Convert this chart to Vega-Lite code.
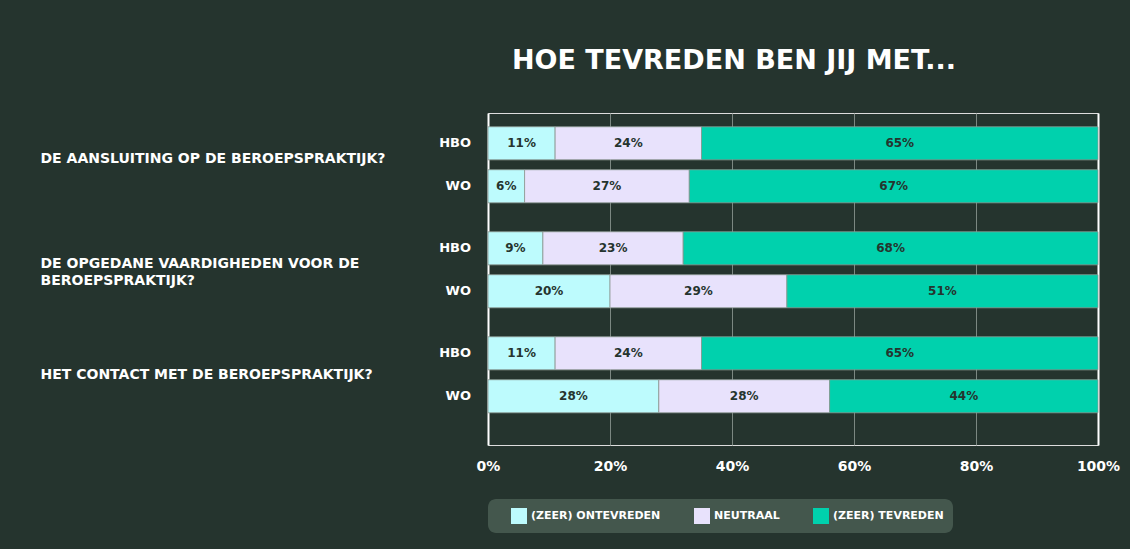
{
  "$schema": "https://vega.github.io/schema/vega-lite/v6.json",
  "width": 610,
  "height": 332,
  "autosize": {"type": "none"},
  "padding": {"left": 488, "top": 113, "right": 32, "bottom": 104},
  "background": "#25342e",
  "title": {
    "text": "HOE TEVREDEN BEN JIJ MET...",
    "color": "#ffffff",
    "font": "DejaVu Sans",
    "fontSize": 27,
    "fontWeight": "bold",
    "anchor": "middle",
    "frame": "group",
    "dx": -59,
    "offset": 38
  },
  "data": {
    "values": [
      {"question": "DE AANSLUITING OP DE BEROEPSPRAKTIJK?", "group": "HBO", "category": "(ZEER) ONTEVREDEN", "rank": 1, "value": 0.11},
      {"question": "DE AANSLUITING OP DE BEROEPSPRAKTIJK?", "group": "HBO", "category": "NEUTRAAL", "rank": 2, "value": 0.24},
      {"question": "DE AANSLUITING OP DE BEROEPSPRAKTIJK?", "group": "HBO", "category": "(ZEER) TEVREDEN", "rank": 3, "value": 0.65},
      {"question": "DE AANSLUITING OP DE BEROEPSPRAKTIJK?", "group": "WO", "category": "(ZEER) ONTEVREDEN", "rank": 1, "value": 0.06},
      {"question": "DE AANSLUITING OP DE BEROEPSPRAKTIJK?", "group": "WO", "category": "NEUTRAAL", "rank": 2, "value": 0.27},
      {"question": "DE AANSLUITING OP DE BEROEPSPRAKTIJK?", "group": "WO", "category": "(ZEER) TEVREDEN", "rank": 3, "value": 0.67},
      {"question": "DE OPGEDANE VAARDIGHEDEN VOOR DE|BEROEPSPRAKTIJK?", "group": "HBO", "category": "(ZEER) ONTEVREDEN", "rank": 1, "value": 0.09},
      {"question": "DE OPGEDANE VAARDIGHEDEN VOOR DE|BEROEPSPRAKTIJK?", "group": "HBO", "category": "NEUTRAAL", "rank": 2, "value": 0.23},
      {"question": "DE OPGEDANE VAARDIGHEDEN VOOR DE|BEROEPSPRAKTIJK?", "group": "HBO", "category": "(ZEER) TEVREDEN", "rank": 3, "value": 0.68},
      {"question": "DE OPGEDANE VAARDIGHEDEN VOOR DE|BEROEPSPRAKTIJK?", "group": "WO", "category": "(ZEER) ONTEVREDEN", "rank": 1, "value": 0.20},
      {"question": "DE OPGEDANE VAARDIGHEDEN VOOR DE|BEROEPSPRAKTIJK?", "group": "WO", "category": "NEUTRAAL", "rank": 2, "value": 0.29},
      {"question": "DE OPGEDANE VAARDIGHEDEN VOOR DE|BEROEPSPRAKTIJK?", "group": "WO", "category": "(ZEER) TEVREDEN", "rank": 3, "value": 0.51},
      {"question": "HET CONTACT MET DE BEROEPSPRAKTIJK?", "group": "HBO", "category": "(ZEER) ONTEVREDEN", "rank": 1, "value": 0.11},
      {"question": "HET CONTACT MET DE BEROEPSPRAKTIJK?", "group": "HBO", "category": "NEUTRAAL", "rank": 2, "value": 0.24},
      {"question": "HET CONTACT MET DE BEROEPSPRAKTIJK?", "group": "HBO", "category": "(ZEER) TEVREDEN", "rank": 3, "value": 0.65},
      {"question": "HET CONTACT MET DE BEROEPSPRAKTIJK?", "group": "WO", "category": "(ZEER) ONTEVREDEN", "rank": 1, "value": 0.28},
      {"question": "HET CONTACT MET DE BEROEPSPRAKTIJK?", "group": "WO", "category": "NEUTRAAL", "rank": 2, "value": 0.28},
      {"question": "HET CONTACT MET DE BEROEPSPRAKTIJK?", "group": "WO", "category": "(ZEER) TEVREDEN", "rank": 3, "value": 0.44}
    ]
  },
  "transform": [
    {"stack": "value", "groupby": ["question", "group"], "sort": [{"field": "rank"}], "as": ["x0", "x1"]}
  ],
  "encoding": {
    "y": {
      "field": "question",
      "type": "nominal",
      "sort": ["DE AANSLUITING OP DE BEROEPSPRAKTIJK?", "DE OPGEDANE VAARDIGHEDEN VOOR DE|BEROEPSPRAKTIJK?", "HET CONTACT MET DE BEROEPSPRAKTIJK?"],
      "scale": {"paddingInner": 0.276, "paddingOuter": 0.219, "align": 0.3},
      "axis": {
        "title": null,
        "domain": false,
        "ticks": false,
        "labelAlign": "left",
        "labelPadding": 448,
        "labelLimit": 440,
        "labelColor": "#ffffff",
        "labelFont": "DejaVu Sans",
        "labelFontSize": 14,
        "labelFontWeight": "bold",
        "labelLineHeight": 17,
        "labelOffset": {"condition": {"test": "datum.value === 'HET CONTACT MET DE BEROEPSPRAKTIJK?'", "value": 0}, "value": -6},
        "labelExpr": "split(datum.label, '|')"
      }
    },
    "yOffset": {
      "field": "group",
      "type": "nominal",
      "sort": ["HBO", "WO"],
      "scale": {"paddingInner": 0.23, "paddingOuter": 0}
    }
  },
  "layer": [
    {
      "mark": {"type": "bar", "stroke": "#8e9a94", "strokeWidth": 0.8},
      "encoding": {
        "x": {
          "field": "x0",
          "type": "quantitative",
          "scale": {"domain": [0, 1], "nice": false},
          "axis": {
            "title": null,
            "values": [0, 0.2, 0.4, 0.6, 0.8, 1],
            "format": ".0%",
            "domain": false,
            "ticks": false,
            "grid": true,
            "gridColor": {"condition": {"test": "datum.value === 0 || datum.value === 1", "value": "#ffffff"}, "value": "#7c8882"},
            "gridWidth": {"condition": {"test": "datum.value === 0 || datum.value === 1", "value": 2}, "value": 1},
            "labelColor": "#ffffff",
            "labelFont": "DejaVu Sans",
            "labelFontSize": 14,
            "labelFontWeight": "bold",
            "labelFlush": false,
            "labelPadding": 14
          }
        },
        "x2": {"field": "x1"},
        "color": {
          "field": "category",
          "type": "nominal",
          "scale": {
            "domain": ["(ZEER) ONTEVREDEN", "NEUTRAAL", "(ZEER) TEVREDEN"],
            "range": ["#bdfbfd", "#e8e2fc", "#00d1ad"]
          },
          "legend": {
            "title": null,
            "orient": "bottom",
            "direction": "horizontal",
            "offset": 26,
            "fillColor": "#44574d",
            "cornerRadius": 8,
            "padding": 9,
            "symbolType": "square",
            "symbolSize": 256,
            "symbolStrokeWidth": 0,
            "symbolOpacity": 1,
            "symbolOffset": 14,
            "labelColor": "#ffffff",
            "labelFont": "DejaVu Sans",
            "labelFontSize": 11,
            "labelFontWeight": "bold",
            "labelOffset": 4,
            "columnPadding": 19
          }
        }
      }
    },
    {
      "transform": [
        {"fold": ["x0", "x1"], "as": ["edge", "pos"]},
        {"aggregate": [{"op": "mean", "field": "pos", "as": "mid"}], "groupby": ["question", "group", "category", "value"]}
      ],
      "mark": {"type": "text", "color": "#25342e", "font": "DejaVu Sans", "fontSize": 12, "fontWeight": "bold"},
      "encoding": {
        "x": {"field": "mid", "type": "quantitative"},
        "text": {"field": "value", "type": "quantitative", "format": ".0%"}
      }
    },
    {
      "transform": [{"filter": "datum.rank == 1"}],
      "mark": {"type": "text", "color": "#ffffff", "font": "DejaVu Sans", "fontSize": 13, "fontWeight": "bold", "align": "right", "dx": -17},
      "encoding": {
        "x": {"datum": 0},
        "text": {"field": "group", "type": "nominal"}
      }
    }
  ]
}
